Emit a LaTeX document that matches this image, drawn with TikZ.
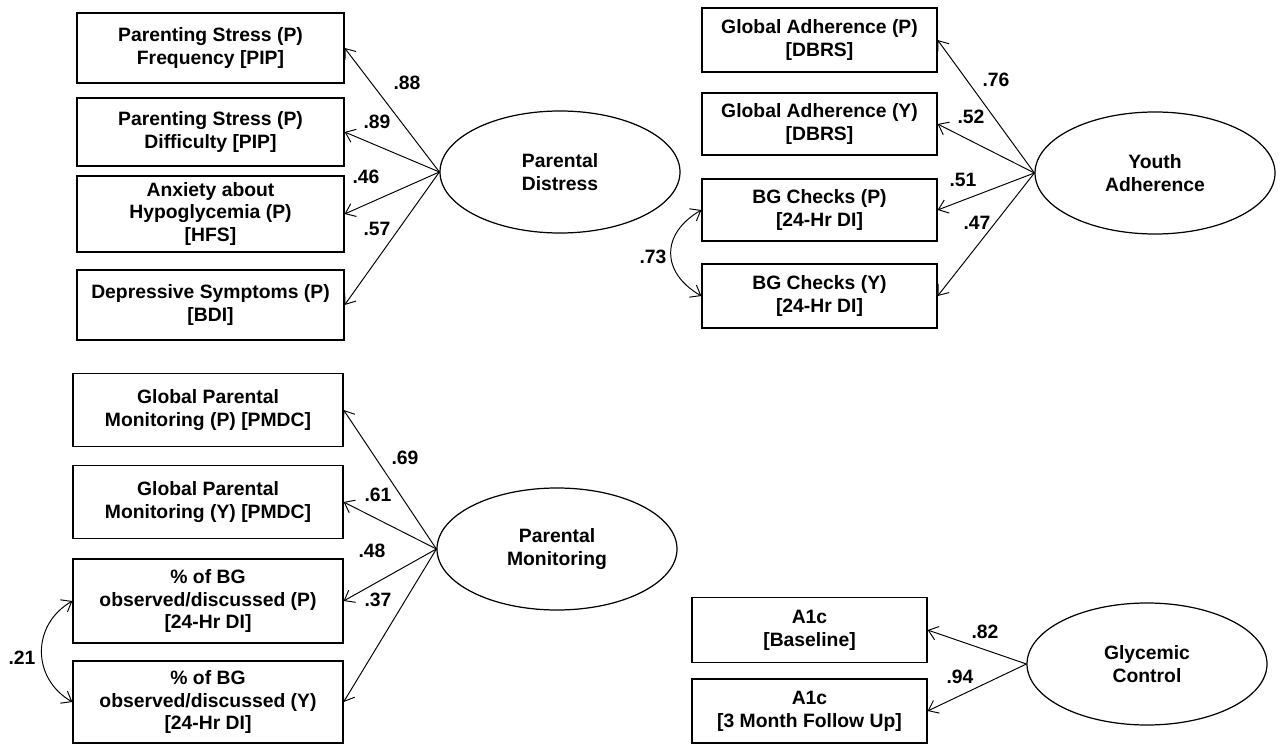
\documentclass[tikz,border=0pt]{standalone}
\usepackage{fontspec}
\setmainfont{Liberation Sans}
\usepackage{tikz}
\usetikzlibrary{positioning}
\usetikzlibrary{shapes.geometric}
\usetikzlibrary{arrows.meta}

\tikzset{
 obs/.style={draw, line width=0.7pt, align=center, inner sep=0pt, font=\fontsize{11}{13}\selectfont\bfseries},
 lat/.style={draw, ellipse, line width=0.7pt, align=center, inner sep=0pt, minimum width=4.8cm, minimum height=2.44cm, font=\fontsize{11}{13}\selectfont\bfseries},
 load/.style={-{Straight Barb[length=1.8mm,width=2.8mm]}, line width=0.55pt},
 cov/.style={{Straight Barb[length=1.8mm,width=2.8mm]}-{Straight Barb[length=1.8mm,width=2.8mm]}, line width=0.55pt},
 wt/.style={font=\fontsize{11}{13}\selectfont\bfseries, inner sep=0pt}
}

\begin{document}
\begin{tikzpicture}
 \useasboundingbox (0,0) rectangle (25.6,-14.9);
 % parental distress
 \node[obs, minimum width=5.34cm, minimum height=1.4cm] (pd1) at (4.21,-0.96) {Parenting Stress (P)\\Frequency [PIP]};
 \node[obs, minimum width=5.34cm, minimum height=1.36cm] (pd2) at (4.21,-2.64) {Parenting Stress (P)\\Difficulty [PIP]};
 \node[obs, minimum width=5.34cm, minimum height=1.52cm] (pd3) at (4.21,-4.28) {Anxiety about\\Hypoglycemia (P)\\{[HFS]}};
 \node[obs, minimum width=5.34cm, minimum height=1.4cm] (pd4) at (4.21,-6.10) {Depressive Symptoms (P)\\{[BDI]}};
 \node[lat] (dist) at (11.2,-3.44) {Parental\\Distress};
 \draw[load] (dist.west) -- (pd1.east);
 \draw[load] (dist.west) -- (pd2.east);
 \draw[load] (dist.west) -- (pd3.east);
 \draw[load] (dist.west) -- (pd4.east);
 \node[wt] (w88) at (8.14,-1.66) {.88};
 \node[wt] (w89) at (7.54,-2.44) {.89};
 \node[wt] (w46) at (7.32,-3.54) {.46};
 \node[wt] (w57) at (7.54,-4.58) {.57};
 % youth adherence
 \node[obs, minimum width=4.7cm, minimum height=1.28cm] (ya1) at (16.39,-0.80) {Global Adherence (P)\\{[DBRS]}};
 \node[obs, minimum width=4.7cm, minimum height=1.24cm] (ya2) at (16.39,-2.48) {Global Adherence (Y)\\{[DBRS]}};
 \node[obs, minimum width=4.7cm, minimum height=1.24cm] (ya3) at (16.39,-4.20) {BG Checks (P)\\{[24-Hr DI]}};
 \node[obs, minimum width=4.7cm, minimum height=1.28cm] (ya4) at (16.39,-5.92) {BG Checks (Y)\\{[24-Hr DI]}};
 \node[lat] (adh) at (23.1,-3.46) {Youth\\Adherence};
 \draw[load] (adh.west) -- (ya1.east);
 \draw[load] (adh.west) -- (ya2.east);
 \draw[load] (adh.west) -- (ya3.east);
 \draw[load] (adh.west) -- (ya4.east);
 \node[wt] (w76) at (19.92,-1.60) {.76};
 \node[wt] (w52) at (19.42,-2.34) {.52};
 \node[wt] (w51) at (19.26,-3.60) {.51};
 \node[wt] (w47) at (19.54,-4.46) {.47};
 \draw[cov] (ya3.west) to[out=210, in=150, looseness=1.4] (ya4.west);
 \node[wt] (w73) at (13.06,-5.14) {.73};
 % parental monitoring
 \node[obs, minimum width=5.4cm, minimum height=1.46cm] (pm1) at (4.16,-8.20) {Global Parental\\Monitoring (P) [PMDC]};
 \node[obs, minimum width=5.4cm, minimum height=1.46cm] (pm2) at (4.16,-10.04) {Global Parental\\Monitoring (Y) [PMDC]};
 \node[obs, minimum width=5.4cm, minimum height=1.68cm] (pm3) at (4.16,-12.02) {\% of BG\\observed/discussed (P)\\{[24-Hr DI]}};
 \node[obs, minimum width=5.4cm, minimum height=1.64cm] (pm4) at (4.16,-14.04) {\% of BG\\observed/discussed (Y)\\{[24-Hr DI]}};
 \node[lat] (mon) at (11.14,-10.98) {Parental\\Monitoring};
 \draw[load] (mon.west) -- (pm1.east);
 \draw[load] (mon.west) -- (pm2.east);
 \draw[load] (mon.west) -- (pm3.east);
 \draw[load] (mon.west) -- (pm4.east);
 \node[wt] (w69) at (8.10,-9.16) {.69};
 \node[wt] (w61) at (7.56,-9.90) {.61};
 \node[wt] (w48) at (7.44,-11.02) {.48};
 \node[wt] (w37) at (7.56,-12.00) {.37};
 \draw[cov] (pm3.west) to[out=210, in=150, looseness=1.2] (pm4.west);
 \node[wt] (w21) at (0.44,-13.16) {.21};
 % glycemic control
 \node[obs, minimum width=4.7cm, minimum height=1.3cm] (gc1) at (16.19,-12.60) {A1c\\{[Baseline]}};
 \node[obs, minimum width=4.7cm, minimum height=1.28cm] (gc2) at (16.19,-14.22) {A1c\\{[3 Month Follow Up]}};
 \node[lat] (gly) at (22.94,-13.28) {Glycemic\\Control};
 \draw[load] (gly.west) -- (gc1.east);
 \draw[load] (gly.west) -- (gc2.east);
 \node[wt] (w82) at (19.70,-12.64) {.82};
 \node[wt] (w94) at (19.20,-13.54) {.94};
\end{tikzpicture}
\end{document}
